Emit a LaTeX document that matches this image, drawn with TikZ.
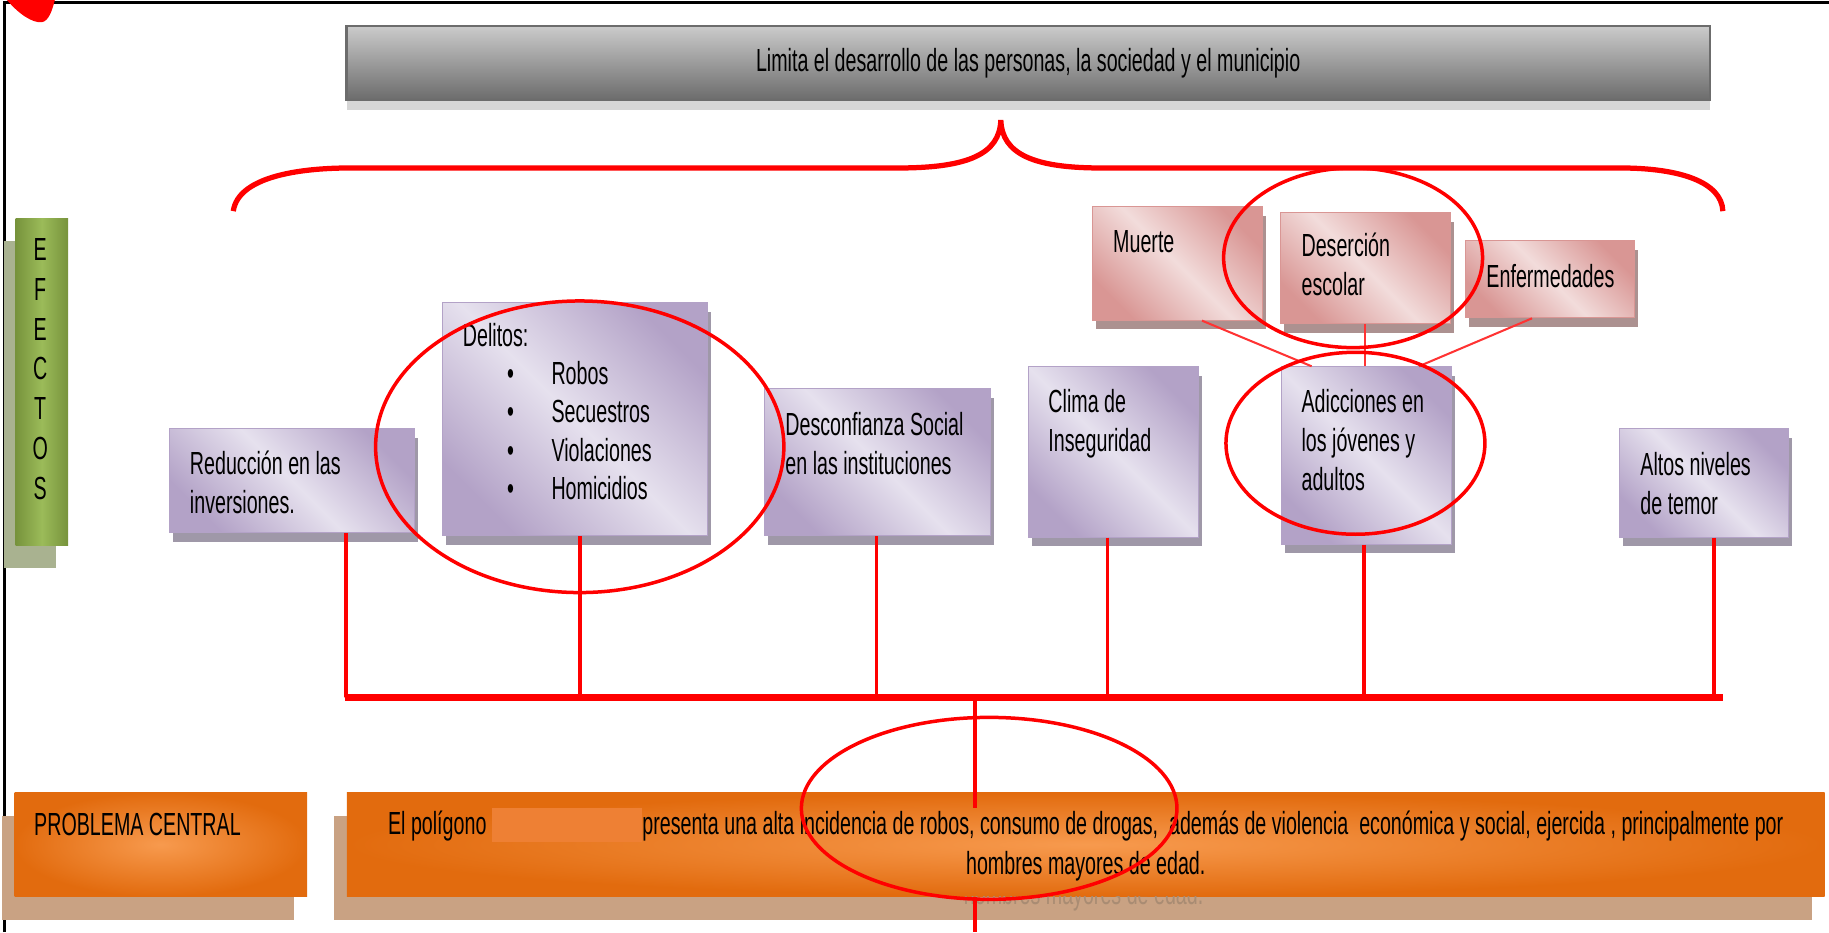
\documentclass[tikz,border=0pt]{standalone}
\usepackage{fontspec}
\setmainfont{Liberation Sans}[FakeStretch=0.615]
\usetikzlibrary{shadows}

\definecolor{lilaclight}{HTML}{E6E1EE}
\definecolor{lilacdark}{HTML}{B3A2C7}
\definecolor{lilacshade}{HTML}{9F98A8}
\definecolor{rosalight}{HTML}{F2DCDB}
\definecolor{rosadark}{HTML}{D99694}
\definecolor{rosashade}{HTML}{AC9190}
\definecolor{grislight}{HTML}{CBCBCB}
\definecolor{grisdark}{HTML}{6C6C6C}
\definecolor{grisshade}{HTML}{D6D6D6}
\definecolor{verdelight}{HTML}{9BBB59}
\definecolor{verdedark}{HTML}{77933C}
\definecolor{verdeshade}{HTML}{A9B290}
\definecolor{naranjalight}{HTML}{F79A4E}
\definecolor{naranjadark}{HTML}{E26B0E}
\definecolor{naranjashade}{HTML}{C9A283}
\definecolor{naranjablank}{HTML}{EE8034}
\definecolor{fantasma}{HTML}{A98C73}
\definecolor{rojo}{HTML}{FF0000}

\tikzset{
  every node/.style={inner sep=0pt, font=\fontsize{15.6}{19.2}\selectfont},
  box/.style={anchor=north west, line width=0.5pt},
  efecto/.style={box, draw=lilacdark, top color=lilacdark, bottom color=lilacdark,
    middle color=lilaclight, shading angle=-45,
    drop shadow={shadow xshift=0.06cm, shadow yshift=-0.16cm, fill=lilacshade, opacity=1}},
  subefecto/.style={box, draw=rosadark, top color=rosadark, bottom color=rosadark,
    middle color=rosalight, shading angle=-45,
    drop shadow={shadow xshift=0.06cm, shadow yshift=-0.16cm, fill=rosashade, opacity=1}},
  titulo/.style={box, draw=grisdark, line width=1.2pt, top color=grislight, bottom color=grisdark,
    drop shadow={shadow xshift=0cm, shadow yshift=-0.18cm, fill=grisshade, opacity=1}},
  lateral/.style={box, left color=verdedark, right color=verdedark, middle color=verdelight,
    drop shadow={shadow xshift=-0.2cm, shadow yshift=-0.39cm, fill=verdeshade, opacity=1}},
  naranja/.style={box, inner color=naranjalight, outer color=naranjadark,
    drop shadow={shadow xshift=-0.22cm, shadow yshift=-0.4cm, fill=naranjashade, opacity=1}},
  txt/.style={anchor=north west, align=left},
  bajada/.style={draw=rojo, line width=0.06cm},
  barra/.style={draw=rojo, line width=0.11cm},
  liga/.style={draw=rojo!80, line width=0.035cm},
  ovalo/.style={draw=rojo, line width=0.06cm},
  llave/.style={draw=rojo, line width=0.09cm}
}

\begin{document}
\begin{tikzpicture}[x=0.02cm, y=-0.02cm]
\useasboundingbox (0,0) rectangle (1568,799);

% marco
\draw[black, line width=0.04cm] (4,799) -- (4,2) -- (1568,2);
\fill[rojo] (6,0) .. controls (16,12) and (28,20) .. (36,19) .. controls (42,18) and (45,8) .. (47,0) -- cycle;

% llave
\draw[llave] (200,181) .. controls (204,152) and (255,144) .. (300,144) -- (770,144)
  .. controls (830,144) and (857,132) .. (858,103) .. controls (859,132) and (886,144) .. (944,144)
  -- (1389,144) .. controls (1440,144) and (1476,156) .. (1477,181);

\node[titulo, minimum width=23.38cm, minimum height=1.27cm] (limita) at (296,21)
  {Limita el desarrollo de las personas, la sociedad y el municipio};

\node[lateral, minimum width=0.9cm, minimum height=5.6cm] (efectos) at (13,187) {};
\node[anchor=north, align=center, font=\fontsize{15.6}{19.45}\selectfont] (efectostxt)
  at ([xshift=-0.03cm, yshift=-0.34cm]efectos.north) {E\\F\\E\\C\\T\\O\\S};

% efectos
\node[efecto, minimum width=4.2cm, minimum height=1.78cm] (reduc) at (145,367) {};
\node[txt] (reductxt) at ([shift={(0.35cm,-0.38cm)}]reduc.north west) {Reducción en las\\inversiones.};

\node[efecto, minimum width=4.54cm, minimum height=4cm] (delitos) at (379,259) {};
\node[txt, font=\fontsize{15.6}{18.6}\selectfont] (delitostxt) at ([shift={(0.35cm,-0.36cm)}]delitos.north west)
  {Delitos:\\
   \hspace*{0.76cm}\makebox[0.76cm][l]{\textbullet}Robos\\
   \hspace*{0.76cm}\makebox[0.76cm][l]{\textbullet}Secuestros\\
   \hspace*{0.76cm}\makebox[0.76cm][l]{\textbullet}Violaciones\\
   \hspace*{0.76cm}\makebox[0.76cm][l]{\textbullet}Homicidios};

\node[efecto, minimum width=3.88cm, minimum height=2.52cm] (desconf) at (655,333) {};
\node[txt] (desconftxt) at ([shift={(0.36cm,-0.4cm)}]desconf.north west) {Desconfianza Social\\en las instituciones};

\node[efecto, minimum width=2.92cm, minimum height=2.92cm] (clima) at (881,314) {};
\node[txt] (climatxt) at ([shift={(0.35cm,-0.38cm)}]clima.north west) {Clima de\\Inseguridad};

\node[efecto, minimum width=2.92cm, minimum height=3.04cm] (adicc) at (1098,314) {};
\node[txt] (adicctxt) at ([shift={(0.35cm,-0.38cm)}]adicc.north west) {Adicciones en\\los jóvenes y\\adultos};

\node[efecto, minimum width=2.9cm, minimum height=1.86cm] (altos) at (1388,367) {};
\node[txt] (altostxt) at ([shift={(0.36cm,-0.4cm)}]altos.north west) {Altos niveles\\de temor};

\node[subefecto, minimum width=2.92cm, minimum height=1.94cm] (muerte) at (936,177) {};
\node[txt] (muertetxt) at ([shift={(0.36cm,-0.4cm)}]muerte.north west) {Muerte};

\node[subefecto, minimum width=2.92cm, minimum height=1.9cm] (deser) at (1097,182) {};
\node[txt] (desertxt) at ([shift={(0.37cm,-0.34cm)}]deser.north west) {Deserción\\escolar};

\node[subefecto, minimum width=2.9cm, minimum height=1.32cm] (enferm) at (1256,206) {};
\node[txt] (enfermtxt) at ([shift={(0.36cm,-0.4cm)}]enferm.north west) {Enfermedades};

% ligas hacia adicciones
\draw[liga] ([xshift=0.42cm]muerte.south) -- ([xshift=-0.94cm]adicc.north);
\draw[liga] (deser.south) -- (deser.south |- adicc.north);
\draw[liga] ([xshift=-0.31cm]enferm.south) -- ([xshift=0.9cm]adicc.north);

% barra
\coordinate (busL) at (296,598);
\coordinate (busR) at (1477,598);
\coordinate (busC) at (836,598);
\coordinate (borde) at (836,799);
\draw[bajada] ([xshift=0.92cm]reduc.south) |- (busL);
\draw[bajada] ([xshift=0.09cm]delitos.south) |- (busL);
\draw[bajada] ([xshift=-0.02cm]desconf.south) |- (busL);
\draw[bajada] ([xshift=-0.1cm]clima.south) |- (busL);
\draw[bajada] ([xshift=-0.04cm]adicc.south) |- (busL);
\draw[bajada] ([xshift=0.17cm]altos.south) |- (busR);
\draw[barra] (busL) -- (busR);

% problema central
\node[naranja, minimum width=5.02cm, minimum height=1.78cm] (problema) at (12,679) {};
\node[txt] (problematxt) at ([shift={(0.34cm,-0.36cm)}]problema.north west) {PROBLEMA CENTRAL};

\node[naranja, minimum width=25.34cm, minimum height=1.78cm, align=center] (central) at (297,679)
  {El polígono \raisebox{-0.12cm}{\textcolor{naranjablank}{\rule{2.58cm}{0.58cm}}}presenta una alta incidencia de robos, consumo de drogas, \ además de violencia \ económica y social, ejercida , principalmente por\\hombres mayores de edad.};
\begin{scope}
  \clip (central.south west) rectangle ([yshift=-1cm]central.south east);
  \node[anchor=base, text=fantasma] (sombratxt) at (929,775) {hombres mayores de edad.};
\end{scope}

\draw[bajada] (busC) -- ([yshift=-0.28cm]central.north -| busC);
\draw[bajada] (central.south -| busC) -- (borde);

% ovalos
\draw[ovalo] (497,383) ellipse [x radius=175, y radius=125];
\draw[ovalo] (1160,221) ellipse [x radius=111, y radius=77];
\draw[ovalo] (1162,380) ellipse [x radius=111, y radius=78];
\draw[ovalo] (848,693) ellipse [x radius=161, y radius=78];
\end{tikzpicture}
\end{document}
